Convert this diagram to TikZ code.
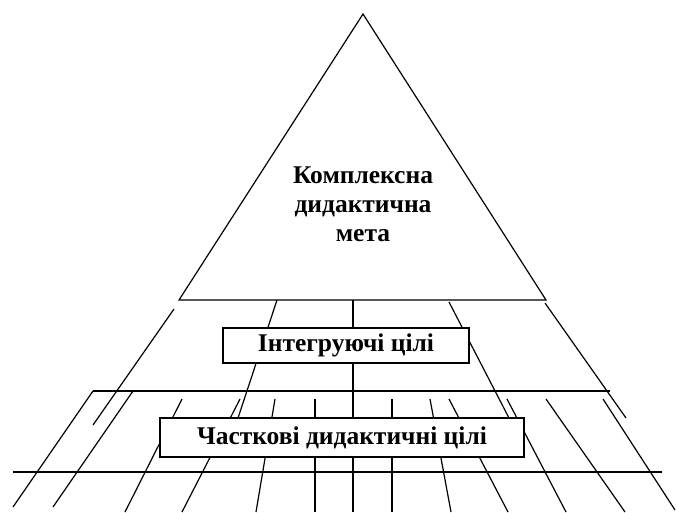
\documentclass[tikz,border=0pt]{standalone}
\usepackage{fontspec}
\setmainfont{Liberation Serif}
\begin{document}
\begin{tikzpicture}[x=1pt,y=-1pt,
  ln/.style={line width=1.2pt},
  hl/.style={line width=1.7pt},
  goalbox/.style={draw, line width=1.4pt, fill=white, inner sep=0pt, font=\fontsize{25.5}{29}\selectfont\bfseries},
  goaltext/.style={align=center, inner sep=0pt, font=\fontsize{25.5}{29}\selectfont\bfseries}]
\useasboundingbox (0,0) rectangle (676,512);
% triangle
\coordinate (apex) at (363,14);
\coordinate (bl) at (179,300);
\coordinate (br) at (546,300);
\draw[ln, line join=miter] (apex) -- (bl) -- (br) -- cycle;
% upper band lines
\draw[ln] (174,309) -- (93,425);
\draw[ln] (277,300) -- (238,418);
\draw[ln] (353,300) -- (353,512);
\draw[ln] (449,302) -- (509,418);
\draw[ln] (545,303) -- (626,418);
% horizontals
\draw[hl] (93,391) -- (610,391);
\draw[hl] (13,472) -- (662,472);
% lower band lines
\draw[ln] (93,391) -- (13,507);
\draw[ln] (133,391) -- (53,507);
\draw[ln] (182,399) -- (125,512);
\draw[ln] (240,399) -- (182,512);
\draw[ln] (275,399) -- (256,512);
\draw[ln] (315,399) -- (315,512);
\draw[ln] (392,399) -- (392,512);
\draw[ln] (430,399) -- (451,512);
\draw[ln] (449,399) -- (508,512);
\draw[ln] (507,399) -- (566,512);
\draw[ln] (546,399) -- (625,512);
\draw[ln] (603,399) -- (675,510);
% boxes
\node[goalbox, minimum width=246pt, minimum height=35pt] (integ) at (346,345.5) {Інтегруючі цілі};
\node[goalbox, minimum width=364pt, minimum height=39pt] (part) at (342,437.5) {Часткові дидактичні цілі};
% triangle text
\node[goaltext] (goal) at (363,204) {Комплексна\\дидактична\\мета};
\end{tikzpicture}
\end{document}
